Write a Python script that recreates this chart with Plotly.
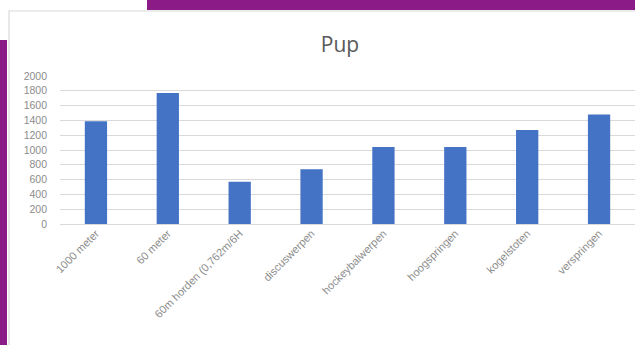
import plotly.graph_objects as go

# Onderdelen en punten (Pup)
categories = [
    "1000 meter",
    "60 meter",
    "60m horden (0,762m/6H",
    "discuswerpen",
    "hockeybalwerpen",
    "hoogspringen",
    "kogelstoten",
    "verspringen",
]
points = [1390, 1770, 570, 740, 1040, 1040, 1270, 1480]
y_ticks = list(range(0, 2001, 200))

W, H = 635, 345
M_L, M_R, M_T, M_B = 60, 0, 76, 121
PW, PH = W - M_L - M_R, H - M_T - M_B

PURPLE = "#8A1B87"
GRID = "#D9D9D9"
TEXT = "#8C8C8C"


def px(x):
    """Figure pixel x -> paper coordinate."""
    return (x - M_L) / PW


def py(y):
    """Figure pixel y (from top) -> paper coordinate."""
    return (H - M_B - y) / PH


fig = go.Figure(
    go.Bar(
        x=categories,
        y=points,
        marker=dict(color="#4472C4", line=dict(width=0)),
        width=0.31,
    )
)

shapes = [
    # chart frame
    dict(type="rect", xref="paper", yref="paper",
         x0=px(9), x1=px(W + 20), y0=py(H + 20), y1=py(11),
         line=dict(color=GRID, width=1.2), fillcolor="rgba(0,0,0,0)", layer="below"),
    # purple slide accents
    dict(type="rect", xref="paper", yref="paper",
         x0=px(147), x1=px(W + 5), y0=py(10), y1=py(-5),
         line=dict(width=0), fillcolor=PURPLE),
    dict(type="rect", xref="paper", yref="paper",
         x0=px(-5), x1=px(7), y0=py(H + 5), y1=py(40),
         line=dict(width=0), fillcolor=PURPLE),
]

fig.update_layout(
    width=W,
    height=H,
    margin=dict(l=M_L, r=M_R, t=M_T, b=M_B),
    paper_bgcolor="white",
    plot_bgcolor="white",
    showlegend=False,
    bargap=0.69,
    font=dict(family="Liberation Sans, Arial, sans-serif", color=TEXT),
    title=dict(
        text="Pup",
        x=340 / W,
        xanchor="center",
        y=1 - 45 / H,
        yanchor="middle",
        font=dict(family="Open Sans, sans-serif", size=21, color="#595959"),
    ),
    shapes=shapes,
    xaxis=dict(
        tickangle=-45,
        tickfont=dict(size=11, color=TEXT),
        showgrid=False,
        showline=False,
        ticks="",
        fixedrange=True,
    ),
    yaxis=dict(
        range=[0, 2000],
        tickvals=y_ticks,
        tickfont=dict(size=10.5, color=TEXT),
        gridcolor=GRID,
        gridwidth=1,
        zeroline=True,
        zerolinecolor=GRID,
        zerolinewidth=1,
        showline=False,
        ticks="",
        ticklabelstandoff=12,
        fixedrange=True,
    ),
)

fig.write_html("out.html")
